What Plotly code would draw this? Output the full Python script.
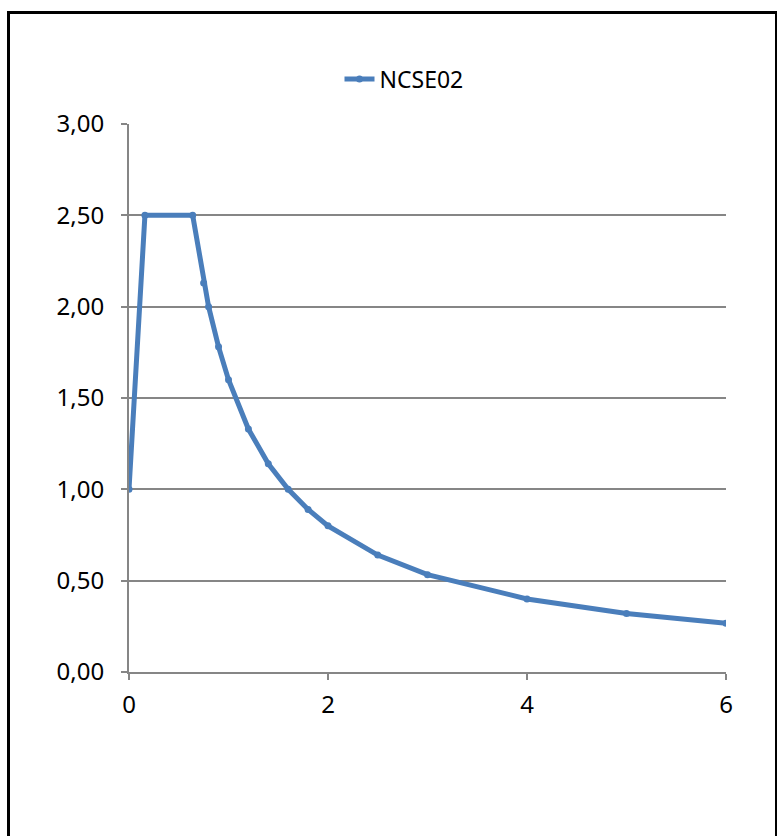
import plotly.graph_objects as go

period = [0, 0.16, 0.64, 0.75, 0.8, 0.9, 1.0, 1.2, 1.4, 1.6, 1.8, 2.0, 2.5, 3.0, 4.0, 5.0, 6.0]
accel = [1.0, 2.5, 2.5, 2.13, 2.0, 1.78, 1.6, 1.33, 1.14, 1.0, 0.89, 0.8, 0.64, 0.533, 0.4, 0.32, 0.267]
series_name = "NCSE02"
y_tickvals = [0, 0.5, 1.0, 1.5, 2.0, 2.5, 3.0]
y_ticktext = ["0,00", "0,50", "1,00", "1,50", "2,00", "2,50", "3,00"]
x_tickvals = [0, 2, 4, 6]
x_ticktext = ["0", "2", "4", "6"]

FONT = "Noto Sans, Open Sans, Liberation Sans, sans-serif"
W, H = 777, 836
L, R, T, B = 129, 51, 124, 164
pw, ph = W - L - R, H - T - B

fig = go.Figure()
fig.add_trace(go.Scatter(
    x=period, y=accel, name=series_name, mode="lines+markers",
    line=dict(color="#4A7EBB", width=5),
    marker=dict(color="#4A7EBB", size=7),
))

def px(x):
    return (x - L) / pw

def py(y):
    return (H - B - y) / ph

fig.add_shape(type="rect", xref="paper", yref="paper",
              x0=px(8.5), x1=px(776.5), y0=py(12.5), y1=py(860),
              line=dict(color="black", width=3), fillcolor="rgba(0,0,0,0)")

fig.update_layout(
    width=W, height=H,
    margin=dict(l=L, r=R, t=T, b=B),
    paper_bgcolor="white", plot_bgcolor="white",
    font=dict(family=FONT, size=24, color="black"),
    showlegend=True,
    legend=dict(orientation="h", x=px(404), xanchor="center", y=py(79), yanchor="middle",
                font=dict(family=FONT, size=23, color="black"), bgcolor="rgba(0,0,0,0)"),
    xaxis=dict(range=[0, 6], tickvals=x_tickvals, ticktext=x_ticktext,
               showgrid=False, zeroline=False, showline=True, linecolor="#868686", linewidth=2,
               ticks="outside", ticklen=6, tickcolor="#868686", tickwidth=2,
               ticklabelstandoff=4,
               tickfont=dict(family=FONT, size=24, color="black")),
    yaxis=dict(range=[0, 3], tickvals=y_tickvals, ticktext=y_ticktext,
               showgrid=True, gridcolor="#868686", gridwidth=1.5,
               zeroline=False, showline=True, linecolor="#868686", linewidth=2,
               ticks="outside", ticklen=6, tickcolor="#868686", tickwidth=2,
               ticklabelstandoff=12,
               tickfont=dict(family=FONT, size=24, color="black")),
)

fig.write_html("out.html")
